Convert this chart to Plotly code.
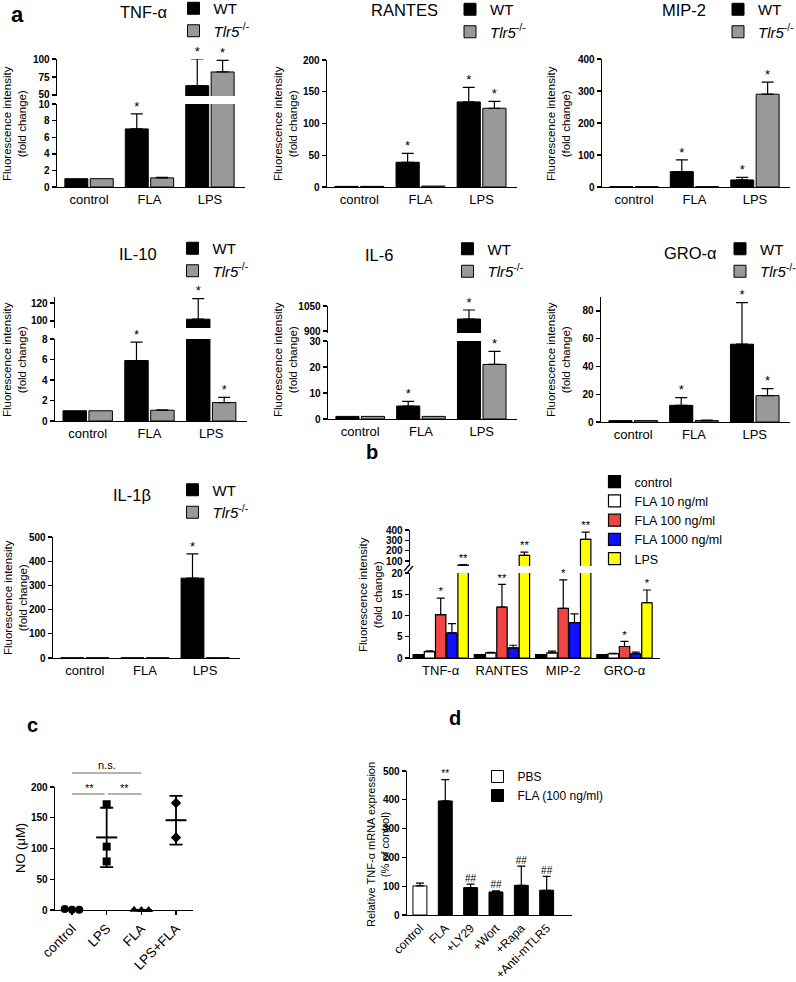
import numpy as np
import plotly.graph_objects as go

W, H = 796, 982
FONT = "Arial, 'Liberation Sans', Helvetica, sans-serif"

# ======================= DATA =======================
groups_a = ["control", "FLA", "LPS"]
name_wt = "WT"
name_ko = "<i>Tlr5</i><sup>-/-</sup>"

tnf_wt = [1.0, 7.0, 63.0]
tnf_wt_sem = [None, 1.8, 37.0]
tnf_ko = [1.0, 1.1, 82.0]
tnf_ko_sem = [None, 0.05, 16.0]
tnf_sig_wt = ["", "*", "*"]
tnf_sig_ko = ["", "", "*"]

rantes_wt = [1.0, 39.0, 134.0]
rantes_wt_sem = [None, 14.0, 23.0]
rantes_ko = [1.0, 1.5, 124.0]
rantes_ko_sem = [None, None, 11.0]
rantes_sig_wt = ["", "*", "*"]
rantes_sig_ko = ["", "", "*"]

mip2_wt = [1.0, 48.0, 22.0]
mip2_wt_sem = [None, 37.0, 8.0]
mip2_ko = [1.0, 1.0, 290.0]
mip2_ko_sem = [None, None, 38.0]
mip2_sig_wt = ["", "*", "*"]
mip2_sig_ko = ["", "", "*"]

il10_wt = [1.0, 5.9, 102.0]
il10_wt_sem = [None, 1.8, 23.0]
il10_ko = [1.0, 1.05, 1.8]
il10_ko_sem = [None, 0.03, 0.5]
il10_sig_wt = ["", "*", "*"]
il10_sig_ko = ["", "", "*"]

il6_wt = [1.0, 5.0, 972.0]
il6_wt_sem = [None, 1.8, 54.0]
il6_ko = [1.0, 1.0, 21.0]
il6_ko_sem = [None, None, 5.0]
il6_sig_wt = ["", "*", "*"]
il6_sig_ko = ["", "", "*"]

gro_wt = [1.0, 12.0, 56.0]
gro_wt_sem = [None, 5.5, 30.0]
gro_ko = [1.0, 1.0, 19.0]
gro_ko_sem = [None, 0.3, 5.0]
gro_sig_wt = ["", "*", "*"]
gro_sig_ko = ["", "", "*"]

il1b_wt = [1.0, 1.0, 330.0]
il1b_wt_sem = [None, None, 100.0]
il1b_ko = [1.0, 1.0, 1.0]
il1b_ko_sem = [None, None, None]
il1b_sig_wt = ["", "", "*"]
il1b_sig_ko = ["", "", ""]

# panel b
cyto_b = ["TNF-α", "RANTES", "MIP-2", "GRO-α"]
conds_b = ["control", "FLA 10 ng/ml", "FLA 100 ng/ml", "FLA 1000 ng/ml", "LPS"]
b_control = [0.8, 0.8, 0.8, 0.8]
b_control_sem = [None, None, None, None]
b_fla10 = [1.5, 1.2, 1.2, 1.0]
b_fla10_sem = [0.2, 0.1, 0.4, 0.1]
b_fla100 = [10.2, 12.0, 11.7, 2.7]
b_fla100_sem = [3.9, 5.3, 6.7, 1.2]
b_fla1000 = [5.9, 2.4, 8.3, 1.0]
b_fla1000_sem = [2.2, 0.6, 2.1, 0.4]
b_lps = [60.0, 155.0, 310.0, 13.0]
b_lps_sem = [4.0, 30.0, 70.0, 3.0]
b_sig_control = ["", "", "", ""]
b_sig_fla10 = ["", "", "", ""]
b_sig_fla100 = ["*", "**", "*", "*"]
b_sig_fla1000 = ["", "", "", ""]
b_sig_lps = ["**", "**", "**", "*"]

# panel c (NO, µM)
groups_c = ["control", "LPS", "FLA", "LPS+FLA"]
c_control = [1.5, 0.3, 0.4]
c_lps = [172.0, 103.0, 79.0]
c_fla = [0.3, 0.0, 0.2]
c_lpsfla = [174.0, 118.0]

# panel d
groups_d = ["control", "FLA", "+LY29", "+Wort", "+Rapa", "+Anti-mTLR5"]
d_pbs = [101.0]
d_pbs_sem = [10.0]
d_fla = [396.0, 95.0, 80.0, 103.0, 86.0]
d_fla_sem = [74.0, 12.0, 4.0, 67.0, 48.0]
d_sig_pbs = [""]
d_sig_fla = ["**", "##", "##", "##", "##"]

# ======================= LAYOUT HELPERS =======================
fig = go.Figure()
L = {}
annots = []
shapes = []
counters = {"x": 0, "y": 0}


def fx(p):
    return p / W


def fy(p):
    return 1 - p / H


def new_axis(letter):
    counters[letter] += 1
    k = counters[letter]
    key = f"{letter}axis" if k == 1 else f"{letter}axis{k}"
    ref = letter if k == 1 else f"{letter}{k}"
    return key, ref


TICKFONT = dict(family=FONT, size=10, color="black", weight="bold")


def y_axis(ytop, ybot, rng, tickvals, anchor):
    return dict(domain=[fy(ybot), fy(ytop)], range=list(rng), tickmode="array", tickvals=tickvals,
                showline=True, linecolor="black", linewidth=1.4, ticks="outside", ticklen=4,
                tickwidth=1.4, tickcolor="black", showgrid=False, zeroline=False,
                tickfont=TICKFONT, anchor=anchor, fixedrange=True)


def x_axis(xpx, xrange, cats, anchor, size=13, angle=0, ticks=""):
    return dict(domain=[fx(xpx[0]), fx(xpx[1])], range=list(xrange), tickmode="array",
                tickvals=list(range(len(cats))), ticktext=cats, showline=True, linecolor="black",
                linewidth=1.4, ticks=ticks, ticklen=4, tickwidth=1.4, tickcolor="black",
                showgrid=False, zeroline=False,
                tickfont=dict(family=FONT, size=size, color="black"), tickangle=angle,
                anchor=anchor, fixedrange=True)


def text(xp, yp, s, size, angle=0, bold=False, color="black", xanchor="center", yanchor="middle"):
    annots.append(dict(x=fx(xp), y=fy(yp), xref="paper", yref="paper", text=s, showarrow=False,
                       textangle=angle, xanchor=xanchor, yanchor=yanchor,
                       font=dict(family=FONT, size=size, color=color,
                                 weight="bold" if bold else "normal")))


def line(x0, y0, x1, y1, color="black", width=1.4):
    shapes.append(dict(type="line", xref="paper", yref="paper", x0=fx(x0), y0=fy(y0),
                       x1=fx(x1), y1=fy(y1), line=dict(color=color, width=width)))


def legend_box(lid, xp, yp, size):
    L[lid] = dict(x=fx(xp), y=fy(yp), xanchor="left", yanchor="top", bgcolor="rgba(0,0,0,0)",
                  font=dict(family=FONT, size=size, color="black"), itemwidth=30,
                  traceorder="normal", tracegroupgap=0)


def bar_panel(xpx, xrange, segs, cats, series, legend_id, xfont=13, xangle=0, err_w=6,
              sig_font=13, line_w=1.0):
    xk, xr = new_axis("x")
    yrefs = []
    for (ytop, ybot, rng, tv) in segs:
        yk, yr = new_axis("y")
        L[yk] = y_axis(ytop, ybot, rng, tv, xr)
        yrefs.append(yr)
    L[xk] = x_axis(xpx, xrange, cats, yrefs[0], size=xfont, angle=xangle)
    his = [s[2][1] for s in segs]
    single = len(segs) == 1

    def seg_index(val):
        for i, h in enumerate(his):
            if val <= h:
                return i
        return len(his) - 1

    for s in series:
        x = np.asarray(s["x"], float)
        v = np.asarray(s["y"], float)
        e = np.asarray(s["sem"], float)
        top = v + np.nan_to_num(e)
        seg_v = np.array([seg_index(t) for t in v])
        seg_t = np.array([seg_index(t) for t in top])
        for si, yr in enumerate(yrefs):
            ee = np.where(seg_v == si, e, np.nan)
            em = np.where(np.isnan(ee), np.nan, 0.0)
            fig.add_trace(go.Bar(
                x=x, y=v, offset=s["off"], width=s["w"], name=s["name"],
                marker=dict(color=s["color"], line=dict(color="black", width=line_w)),
                error_y=dict(type="data", symmetric=False, array=ee, arrayminus=em,
                             color="black", thickness=1.2, width=err_w),
                xaxis=xr, yaxis=yr, legend=legend_id, cliponaxis=not single,
                showlegend=(si == 0 and s.get("show", True)), hoverinfo="skip"))
            idx = [i for i in range(len(v)) if seg_t[i] == si and s["sig"][i]]
            if idx:
                fig.add_trace(go.Scatter(
                    x=[x[i] + s["off"] + s["w"] / 2 for i in idx], y=[top[i] for i in idx],
                    mode="text", text=[s["sig"][i] for i in idx], textposition="top center",
                    textfont=dict(family=FONT, size=sig_font, color="black"),
                    cliponaxis=False, showlegend=False, hoverinfo="skip", xaxis=xr, yaxis=yr))


def panel_a(title, tpos, xpx, segs, wt, wt_sem, ko, ko_sem, sig_wt, sig_ko, lid, lpos, ylab_pos):
    xs = list(range(3))
    series = [
        dict(x=xs, y=wt, sem=wt_sem, sig=sig_wt, off=-0.40, w=0.38, color="black", name=name_wt),
        dict(x=xs, y=ko, sem=ko_sem, sig=sig_ko, off=0.02, w=0.38, color="#999999", name=name_ko),
    ]
    bar_panel(xpx, (-0.53, 2.58), segs, groups_a, series, lid)
    legend_box(lid, lpos[0], lpos[1], 15)
    text(tpos[0], tpos[1], title, 16.5)
    text(ylab_pos[0], ylab_pos[1], "Fluorescence intensity<br>(fold change)", 11.5, angle=-90)


# ======================= PANEL a =======================
panel_a("TNF-α", (144, 12), (57, 245),
        [(104, 187, (0, 10), [0, 2, 4, 6, 8, 10]), (59, 96, (48.6, 100), [50, 75, 100])],
        tnf_wt, tnf_wt_sem, tnf_ko, tnf_ko_sem, tnf_sig_wt, tnf_sig_ko, "legend", (173.5, -8), (14, 124))
panel_a("RANTES", (404, 10), (327, 517),
        [(60, 187, (0, 200), [0, 50, 100, 150, 200])],
        rantes_wt, rantes_wt_sem, rantes_ko, rantes_ko_sem, rantes_sig_wt, rantes_sig_ko,
        "legend2", (450, -7), (285, 124))
panel_a("MIP-2", (684, 10), (602, 790),
        [(59, 187, (0, 400), [0, 100, 200, 300, 400])],
        mip2_wt, mip2_wt_sem, mip2_ko, mip2_ko_sem, mip2_sig_wt, mip2_sig_ko,
        "legend3", (718, -7), (558, 124))
panel_a("IL-10", (138, 254), (55, 247),
        [(339, 421, (0, 8), [0, 2, 4, 6, 8]), (297, 328, (92.2, 126.7), [100, 120])],
        il10_wt, il10_wt_sem, il10_ko, il10_ko_sem, il10_sig_wt, il10_sig_ko,
        "legend4", (172.5, 232), (14, 360))
panel_a("IL-6", (379, 255), (328, 517),
        [(341, 419, (0, 30), [0, 10, 20, 30]), (306, 333, (888, 1050), [900, 1050])],
        il6_wt, il6_wt_sem, il6_ko, il6_ko_sem, il6_sig_wt, il6_sig_ko,
        "legend5", (447.5, 232.5), (285, 360))
panel_a("GRO-α", (690, 253), (601, 790),
        [(297, 422, (0, 90), [0, 20, 40, 60, 80])],
        gro_wt, gro_wt_sem, gro_ko, gro_ko_sem, gro_sig_wt, gro_sig_ko,
        "legend6", (720, 232.5), (558, 360))
panel_a("IL-1β", (132, 495), (53, 240),
        [(537, 658, (0, 500), [0, 100, 200, 300, 400, 500])],
        il1b_wt, il1b_wt_sem, il1b_ko, il1b_ko_sem, il1b_sig_wt, il1b_sig_ko,
        "legend7", (172.5, 473.5), (15, 598))
text(17, 15, "a", 22, bold=True)

# ======================= PANEL b =======================
xs_b = list(range(4))
b_colors = ["black", "white", "#f04545", "#1010ff", "#ffff00"]
b_vals = [b_control, b_fla10, b_fla100, b_fla1000, b_lps]
b_sems = [b_control_sem, b_fla10_sem, b_fla100_sem, b_fla1000_sem, b_lps_sem]
b_sigs = [b_sig_control, b_sig_fla10, b_sig_fla100, b_sig_fla1000, b_sig_lps]
series_b = []
for i in range(5):
    series_b.append(dict(x=xs_b, y=b_vals[i], sem=b_sems[i], sig=b_sigs[i],
                         off=-0.45 + 0.183 * i, w=0.17, color=b_colors[i], name=conds_b[i]))
bar_panel((410, 660), (-0.5, 3.58),
          [(573, 658, (0, 20), [0, 5, 10, 15, 20]), (530, 566, (51.6, 400), [100, 200, 300, 400])],
          cyto_b, series_b, "legend8", err_w=4, sig_font=11.5, line_w=1.2)
legend_box("legend8", 594.5, 467, 12.5)
text(372, 452, "b", 20, bold=True)
text(370, 595, "Fluorescence intensity<br>(fold change)", 11.5, angle=-90)
line(404, 571, 410, 564, width=1.2)
line(407, 573, 413, 566, width=1.2)

# ======================= PANEL c =======================
xk, xr = new_axis("x")
yk, yr = new_axis("y")
c_x0, c_x1 = 55, 193
c_range = (-0.49, 3.49)
L[xk] = x_axis((c_x0, c_x1), c_range, groups_c, yr, size=13.5, angle=-45, ticks="outside")
L[yk] = y_axis(787, 910, (0, 200), [0, 50, 100, 150, 200], xr)
c_data = [c_control, c_lps, c_fla, c_lpsfla]
c_symbols = ["circle", "square", "triangle-up", "diamond"]
for gi, vals in enumerate(c_data):
    v = np.asarray(vals, float)
    n = len(v)
    spread = (np.ptp(v) < 10)
    offs = (np.arange(n) - (n - 1) / 2) * 0.21 if spread else np.zeros(n)
    fig.add_trace(go.Scatter(x=gi + offs, y=v, mode="markers", xaxis=xr, yaxis=yr,
                             marker=dict(symbol=c_symbols[gi], size=8, color="black"),
                             showlegend=False, hoverinfo="skip", cliponaxis=False))
    fig.add_trace(go.Scatter(x=[gi], y=[v.mean()], mode="markers", xaxis=xr, yaxis=yr,
                             marker=dict(symbol="line-ew", size=15, line=dict(width=2, color="black")),
                             error_y=dict(type="data", array=[v.std(ddof=1)], color="black",
                                          thickness=1.8, width=6.5),
                             showlegend=False, hoverinfo="skip", cliponaxis=False))


def c_px(i):
    return c_x0 + (i - c_range[0]) * (c_x1 - c_x0) / (c_range[1] - c_range[0])


grey = "#9a9a9a"
line(c_px(0), 773, c_px(2), 773, color=grey, width=1.5)
line(c_px(0), 794, c_px(1) - 2, 794, color=grey, width=1.5)
line(c_px(1) + 1, 794, c_px(2), 794, color=grey, width=1.5)
text((c_px(0) + c_px(2)) / 2, 765, "n.s.", 11)
text((c_px(0) + c_px(1)) / 2, 788, "**", 11)
text((c_px(1) + c_px(2)) / 2, 788, "**", 11)
text(32, 725, "c", 20, bold=True)
text(20, 848, "NO (μM)", 13, angle=-90)

# ======================= PANEL d =======================
series_d = [
    dict(x=[0], y=d_pbs, sem=d_pbs_sem, sig=d_sig_pbs, off=-0.275, w=0.55, color="white", name="PBS"),
    dict(x=[1, 2, 3, 4, 5], y=d_fla, sem=d_fla_sem, sig=d_sig_fla, off=-0.275, w=0.55,
         color="black", name="FLA (100 ng/ml)"),
]
bar_panel((407, 572), (-0.51, 6.0), [(771, 915, (0, 500), [0, 100, 200, 300, 400, 500])],
          groups_d, series_d, "legend9", xfont=12, xangle=-45, err_w=4, sig_font=10)
legend_box("legend9", 477.5, 762, 12)
text(455, 718, "d", 20, bold=True)
text(378, 845, "Relative TNF-α mRNA expression<br>(% of control)", 11, angle=-90)

fig.update_layout(**L)
fig.update_layout(width=W, height=H,
                  margin=dict(l=0, r=0, t=0, b=0, pad=0, autoexpand=False), barmode="overlay",
                  paper_bgcolor="white", plot_bgcolor="white", annotations=annots, shapes=shapes,
                  font=dict(family=FONT, color="black"), showlegend=True, hovermode=False)
fig.write_html("out.html", config={"displayModeBar": False, "staticPlot": True},
               post_script="document.body.style.margin='0';document.body.style.padding='0';")
